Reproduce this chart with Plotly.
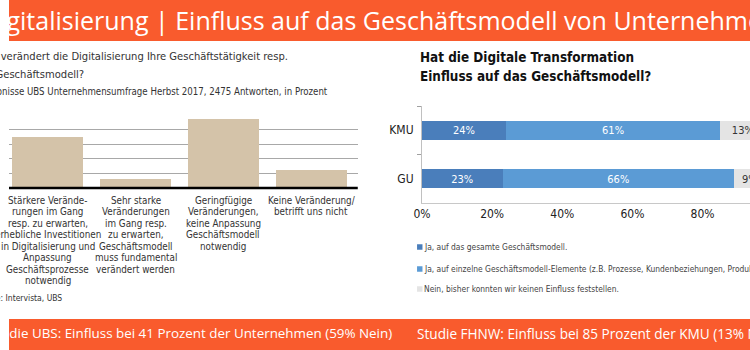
import plotly.graph_objects as go

# ---------------- data ----------------
ubs_categories = ["A", "B", "C", "D"]
ubs_labels = [
    "Stärkere Verände-\nrungen im Gang\nresp. zu erwarten,\nerhebliche Investitionen\nin Digitalisierung und\nAnpassung\nGeschäftsprozesse\nnotwendig",
    "Sehr starke\nVeränderungen\nim Gang resp.\nzu erwarten,\nGeschäftsmodell\nmuss fundamental\nverändert werden",
    "Geringfügige\nVeränderungen,\nkeine Anpassung\nGeschäftsmodell\nnotwendig",
    "Keine Veränderung/\nbetrifft uns nicht",
]
ubs_values = [35, 6, 47, 12]

fhnw_groups = ["GU", "KMU"]
fhnw_series = [
    "Ja, auf das gesamte Geschäftsmodell.",
    "Ja, auf einzelne Geschäftsmodell-Elemente (z.B. Prozesse, Kundenbeziehungen, Produkte).",
    "Nein, bisher konnten wir keinen Einfluss feststellen.",
]
fhnw_gesamt = [23, 24]
fhnw_einzelne = [66, 61]
fhnw_nein = [9, 13]

x_ticks = [0, 20, 40, 60, 80]

title_text = "Digitalisierung | Einfluss auf das Geschäftsmodell von Unternehmen"
footer_left = "Studie UBS: Einfluss bei 41 Prozent der Unternehmen (59% Nein)"
footer_right = "Studie FHNW: Einfluss bei 85 Prozent der KMU (13% Nein)"
ubs_title = ["Wie verändert die Digitalisierung Ihre Geschäftstätigkeit resp.",
             "Ihr Geschäftsmodell?"]
ubs_subtitle = "Ergebnisse UBS Unternehmensumfrage Herbst 2017, 2475 Antworten, in Prozent"
ubs_source = "Quelle: Intervista, UBS"
fhnw_title = ["Hat die Digitale Transformation", "Einfluss auf das Geschäftsmodell?"]

# ---------------- helpers ----------------
W, H = 750, 350
def fx(p): return p / W
def fy(p): return 1 - p / H

ORANGE = "#F95B2D"
NARROW = "Liberation Sans Narrow, Arial Narrow, DejaVu Sans Condensed, sans-serif"
BANNER = "Open Sans, Lato, sans-serif"
series_colors = ["#4A7EBB", "#5B9BD5", "#E4E4E4"]
series_text = ["white", "white", "#333333"]

fig = go.Figure()

# left chart
fig.add_trace(go.Bar(x=ubs_categories, y=ubs_values, width=0.81,
                     marker=dict(color="#D4C3A9", line=dict(width=0)),
                     xaxis="x", yaxis="y", showlegend=False, hoverinfo="skip"))

# right chart
for name, vals, col, tcol in zip(fhnw_series, [fhnw_gesamt, fhnw_einzelne, fhnw_nein],
                                 series_colors, series_text):
    fig.add_trace(go.Bar(y=fhnw_groups, x=vals, orientation="h", width=0.4, name=name,
                         marker=dict(color=col, line=dict(width=0)),
                         text=[f"{v}%" for v in vals], textposition="inside",
                         insidetextanchor="middle", textangle=0,
                         textfont=dict(color=tcol, size=11.5, family=NARROW),
                         xaxis="x2", yaxis="y2", showlegend=False, hoverinfo="skip"))

shapes = []
ann = []

# banners
shapes.append(dict(type="rect", xref="paper", yref="paper", x0=0, x1=1, y0=fy(41), y1=1,
                   fillcolor=ORANGE, line=dict(width=0), layer="below"))
shapes.append(dict(type="rect", xref="paper", yref="paper", x0=0, x1=1, y0=0, y1=fy(319),
                   fillcolor=ORANGE, line=dict(width=0), layer="below"))
ann.append(dict(text=title_text, xref="paper", yref="paper", x=fx(-29), y=fy(20),
                xanchor="left", yanchor="middle", showarrow=False,
                font=dict(family=BANNER, size=25, color="white")))
ann.append(dict(text=footer_left, xref="paper", yref="paper", x=fx(390), y=fy(333),
                xanchor="right", yanchor="middle", showarrow=False,
                font=dict(family=BANNER, size=13.4, color="white")))
ann.append(dict(text=footer_right, xref="paper", yref="paper", x=fx(411), y=fy(333),
                xanchor="left", yanchor="middle", showarrow=False,
                font=dict(family=BANNER, size=13.6, color="white")))

# left titles
for i, t in enumerate(ubs_title):
    ann.append(dict(text=t, xref="paper", yref="paper", x=fx(-32), y=fy(57 + 17 * i),
                    xanchor="left", yanchor="middle", showarrow=False,
                    font=dict(family=NARROW, size=11.1, color="#333333")))
ann.append(dict(text=ubs_subtitle, xref="paper", yref="paper", x=fx(-34), y=fy(91),
                xanchor="left", yanchor="middle", showarrow=False,
                font=dict(family=NARROW, size=9.6, color="#333333")))
ann.append(dict(text=ubs_source, xref="paper", yref="paper", x=fx(-35), y=fy(298),
                xanchor="left", yanchor="middle", showarrow=False,
                font=dict(family=NARROW, size=8.5, color="#333333")))
# left category labels, line by line
for cat, lab in zip(ubs_categories, ubs_labels):
    for j, line in enumerate(lab.split("\n")):
        ann.append(dict(text=line, xref="x", yref="paper", x=cat, y=fy(200 + 11.5 * j),
                        xanchor="center", yanchor="middle", showarrow=False,
                        font=dict(family=NARROW, size=9.8, color="#333333")))
# baseline
shapes.append(dict(type="line", xref="paper", yref="paper", x0=0, x1=fx(353),
                   y0=fy(188), y1=fy(188), line=dict(color="black", width=2.5)))

# right titles
for i, t in enumerate(fhnw_title):
    ann.append(dict(text=f"<b>{t}</b>", xref="paper", yref="paper", x=fx(414), y=fy(58 + 19 * i),
                    xanchor="left", yanchor="middle", showarrow=False,
                    font=dict(family=NARROW, size=13.4, color="#111111")))
# right legend
leg_y = [247, 269, 289]
for name, col, yy in zip(fhnw_series, series_colors, leg_y):
    shapes.append(dict(type="rect", xref="paper", yref="paper", x0=fx(413), x1=fx(418.5),
                       y0=fy(yy + 2.75), y1=fy(yy - 2.75), fillcolor=col, line=dict(width=0)))
    ann.append(dict(text=name, xref="paper", yref="paper", x=fx(418), y=fy(yy),
                    xanchor="left", yanchor="middle", showarrow=False,
                    font=dict(family=NARROW, size=8.4, color="#444444")))

fig.update_layout(
    width=W, height=H, margin=dict(l=0, r=0, t=0, b=0),
    paper_bgcolor="white", plot_bgcolor="rgba(0,0,0,0)",
    shapes=shapes, annotations=ann,
    barmode="stack", showlegend=False,
    xaxis=dict(domain=[0, fx(353)], range=[-0.44, 3.53], showticklabels=False,
               showgrid=False, zeroline=False, showline=False, fixedrange=True),
    yaxis=dict(domain=[fy(188), fy(115)], range=[0, 50], dtick=10, showticklabels=False,
               showgrid=True, gridcolor="#A8A8A8", gridwidth=1, zeroline=False, anchor="x"),
    xaxis2=dict(domain=[fx(418), 1], range=[0, 100 * (W - 418) / 355], anchor="y2",
                tickvals=x_ticks, ticktext=[f"{v}%" for v in x_ticks],
                showgrid=False, zeroline=False, showline=True, linecolor="#C8C8C8",
                ticks="", tickfont=dict(family=NARROW, size=12, color="#222222")),
    yaxis2=dict(domain=[fy(203), fy(106)], range=[-0.5, 1.5], anchor="x2",
                type="category", categoryorder="array", categoryarray=fhnw_groups,
                showline=True, linecolor="#C0C0C0", ticks="outside", tickson="boundaries",
                ticklen=4, tickcolor="#A0A0A0", showgrid=False, ticklabelstandoff=5,
                tickfont=dict(family=NARROW, size=12, color="#222222")),
)

fig.write_html("out.html")
